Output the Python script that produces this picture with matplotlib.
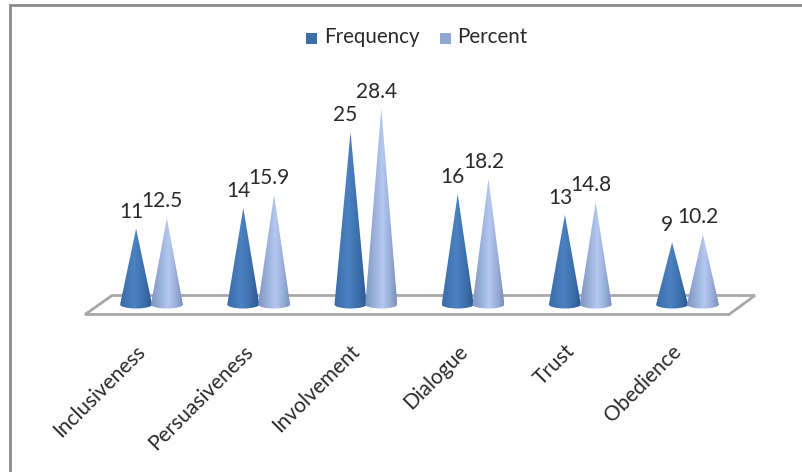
import numpy as np
import matplotlib
matplotlib.use("Agg")
import matplotlib.pyplot as plt
from matplotlib.colors import LinearSegmentedColormap
from matplotlib.patches import PathPatch, Polygon, Rectangle
from matplotlib.path import Path

categories = ["Inclusiveness", "Persuasiveness", "Involvement", "Dialogue", "Trust", "Obedience"]
frequency = [11, 14, 25, 16, 13, 9]
percent = [12.5, 15.9, 28.4, 18.2, 14.8, 10.2]
series_names = ["Frequency", "Percent"]

W, H = 803, 472
plt.rcParams["font.family"] = ["Lato", "DejaVu Sans"]
fig = plt.figure(figsize=(W / 100, H / 100), dpi=100)
ax = fig.add_axes([0, 0, 1, 1])
PX = 107.2  # px per category
PY = 6.9    # px per unit
x0, y0 = 151.5, 304.5
ax.set_xlim(-x0 / PX, (W - x0) / PX)
ax.set_ylim(-(H - y0) / PY, y0 / PY)
ax.axis("off")

fx = lambda p: (p - x0) / PX
fy = lambda p: (y0 - p) / PY
# chart frame: only the top and left edges are visible in the crop
ax.plot([fx(9.5), fx(9.5), fx(803)], [fy(472), fy(5), fy(5)], color="#8a8a8a", lw=2,
        solid_joinstyle="miter", zorder=1)
# floor
ax.add_patch(Polygon([(fx(85), fy(314.5)), (fx(112), fy(295.5)), (fx(755), fy(295.5)), (fx(729), fy(314.5))],
                     closed=True, fc="white", ec="#a8a8a8", lw=2, zorder=2))

cmap_f = LinearSegmentedColormap.from_list(
    "f", [(0, "#3a6ba8"), (0.45, "#4c82c2"), (0.8, "#3a6ca8"), (1, "#2b5a92")])
cmap_p = LinearSegmentedColormap.from_list(
    "p", [(0, "#8096c2"), (0.55, "#b4c8f0"), (0.8, "#97add8"), (1, "#7b90b8")])
grad = np.linspace(0, 1, 64).reshape(1, -1)

HALF = 16 / PX
ELL = 4 / PY
OFF = 15.4 / PX
K = 0.5523
FS = 15


def cone(xc, v, cmap):
    verts = [(xc, v), (xc + HALF, 0), (xc + HALF, -ELL * K), (xc + HALF * K, -ELL), (xc, -ELL),
             (xc - HALF * K, -ELL), (xc - HALF, -ELL * K), (xc - HALF, 0), (xc, v), (xc, v)]
    codes = [Path.MOVETO, Path.LINETO, Path.CURVE4, Path.CURVE4, Path.CURVE4,
             Path.CURVE4, Path.CURVE4, Path.CURVE4, Path.LINETO, Path.CLOSEPOLY]
    patch = PathPatch(Path(verts, codes), fc="none", ec="none", transform=ax.transData)
    ax.add_patch(patch)
    im = ax.imshow(grad, extent=[xc - HALF, xc + HALF, -ELL, v], cmap=cmap, aspect="auto",
                   interpolation="bilinear", zorder=3)
    im.set_clip_path(patch)


xlim, ylim = ax.get_xlim(), ax.get_ylim()
LAB_DX = -5 / PX
LAB_DY = 11 / PY
for i, cat in enumerate(categories):
    cone(i - OFF, frequency[i], cmap_f)
    cone(i + OFF, percent[i], cmap_p)
    ax.text(i - OFF + LAB_DX, frequency[i] + LAB_DY, f"{frequency[i]}", ha="center", va="baseline",
            fontsize=FS, color="#2a2a2a", zorder=5)
    ax.text(i + OFF + LAB_DX, percent[i] + LAB_DY, f"{percent[i]}", ha="center", va="baseline",
            fontsize=FS, color="#2a2a2a", zorder=5)
    ax.text(i - 16 / PX, fy(341), cat, rotation=45, rotation_mode="anchor", ha="right", va="top",
            fontsize=FS, color="#2a2a2a", zorder=5)
ax.set_xlim(xlim)
ax.set_ylim(ylim)

# legend
ax.add_patch(Rectangle((fx(306), fy(43.5)), 11 / PX, 11 / PY, fc="#3d6ea8", ec="none", zorder=5))
ax.add_patch(Rectangle((fx(440), fy(43.5)), 11 / PX, 11 / PY, fc="#8fa7d1", ec="none", zorder=5))
ax.text(fx(324), fy(37), series_names[0], fontsize=14.8, color="#2a2a2a", va="center", ha="left")
ax.text(fx(457), fy(37), series_names[1], fontsize=14.8, color="#2a2a2a", va="center", ha="left")

fig.savefig("out.png", dpi=100, facecolor="white")
